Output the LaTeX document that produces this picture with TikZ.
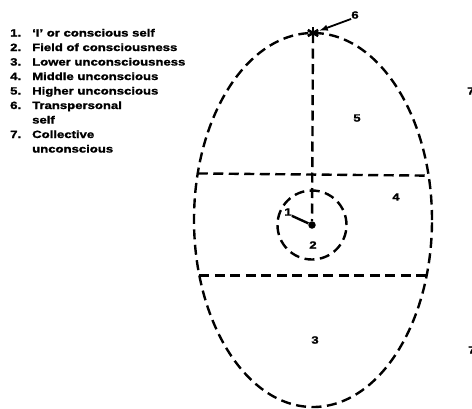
\documentclass[tikz,border=0pt]{standalone}
\usepackage{fontspec}
\setmainfont{Liberation Sans}[FakeStretch=1.25,BoldFeatures={FakeBold=1.6}]
\usetikzlibrary{shapes.geometric}

\begin{document}
\begin{tikzpicture}[x=1pt,y=-1pt]
                \tikzstyle{dashline}=[line width=2.4pt,dash pattern=on 10pt off 5.5pt]
                \tikzstyle{lbl}=[font=\bfseries\fontsize{10.5}{14.5}\selectfont,inner sep=0pt]
                \newcommand\legitem[3]{\node[lbl,anchor=base west] (n#1) at (10,#2) {#1.};%
                \node[lbl,anchor=base west] (t#1) at (32,#2) {#3};}
                \useasboundingbox (0,0) rectangle (472,408);
                % the egg and its bands
                \node[ellipse,draw,dashline,minimum width=238pt,minimum height=374pt,inner sep=0pt,outer sep=0pt] (egg) at (313,220) {};
                \node[circle,draw,dashline,minimum size=69pt,inner sep=0pt] (field) at (312,225) {};
                \node[circle,fill,inner sep=0pt,minimum size=7.5pt] (ego) at (312,225) {};
                \coordinate (top) at (egg.north);
                \draw[dashline] (top) -- (ego);
                \draw[dashline] (egg.158.3) -- (egg.21.7);
                \draw[dashline] (egg.206.7) -- (egg.-26.7);
                \foreach \a in {90,30,150}
                    \draw[line width=2.6pt] (top) ++(\a:6) -- ++(\a+180:12);
                % numbers
                \node[lbl] (l1) at (288,212) {1};
                \node[lbl] (l2) at (313,245) {2};
                \node[lbl] (l3) at (315,340) {3};
                \node[lbl] (l4) at (396,197) {4};
                \node[lbl] (l5) at (357,118) {5};
                \node[lbl] (l6) at (355,15) {6};
                \draw[line width=2.4pt] (l1.south east) -- (ego);
                \draw[line width=1.8pt,-latex,shorten >=7pt] (l6.south west) -- (top);
                \node[lbl,anchor=west] (cut7a) at (467,91) {7};
                \node[lbl,anchor=west] (cut7b) at (468,350) {7};
                % legend
                \legitem{1}{36.5}{`I' or conscious self}
                \legitem{2}{51}{Field of consciousness}
                \legitem{3}{65.5}{Lower unconsciousness}
                \legitem{4}{80}{Middle unconscious}
                \legitem{5}{94.5}{Higher unconscious}
                \legitem{6}{109}{Transpersonal}
                \node[lbl,anchor=base west] (t6b) at (32,123.5) {self};
                \legitem{7}{138}{Collective}
                \node[lbl,anchor=base west] (t7b) at (32,152.5) {unconscious};
\end{tikzpicture}
\end{document}
